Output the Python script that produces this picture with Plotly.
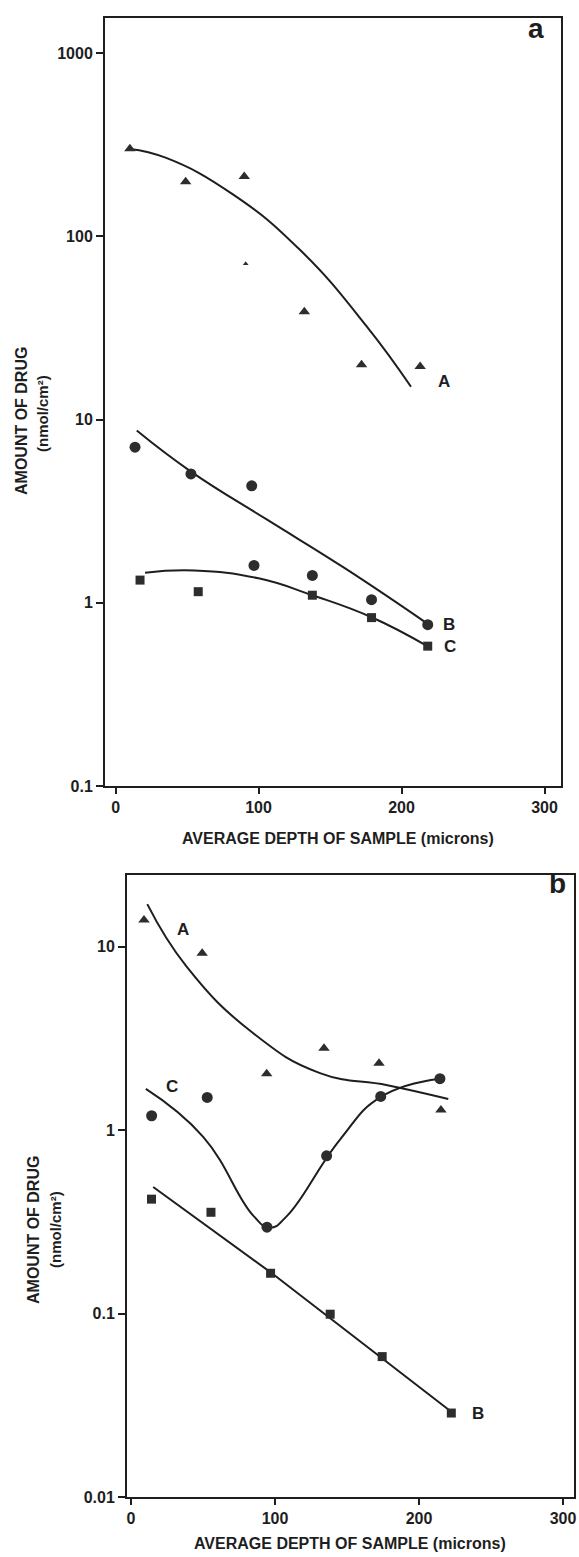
import math
import plotly.graph_objects as go

W, H = 579, 1557

# ---------------- Panel a data ----------------
a_tri_x = [10, 49, 90, 132, 172, 213]
a_tri_y = [301, 199, 212, 38.8, 19.9, 19.5]
a_faint_x = [91]
a_faint_y = [70.8]
a_circ_x = [13.6, 52.7, 95.2, 96.8, 137.6, 179, 218.3]
a_circ_y = [7.07, 5.05, 4.35, 1.60, 1.41, 1.04, 0.76]
a_sq_x = [17.1, 57.8, 137.6, 179, 218.3]
a_sq_y = [1.33, 1.15, 1.10, 0.83, 0.58]
a_curveA_x = [10, 35.4, 82.3, 128.9, 175.6, 206.6]
a_curveA_y = [300, 268, 169, 84.5, 32.3, 15.1]
a_curveB_x = [14.8, 52.7, 105.7, 160, 218]
a_curveB_y = [8.71, 5.20, 2.85, 1.55, 0.77]
a_curveC_x = [20.6, 55, 100, 137.6, 179, 218]
a_curveC_y = [1.46, 1.50, 1.36, 1.10, 0.834, 0.58]

# ---------------- Panel b data ----------------
b_tri_x = [9.0, 49.4, 94.2, 134, 172.2, 215.2]
b_tri_y = [14.0, 9.23, 2.03, 2.80, 2.32, 1.29]
b_circ_x = [14.3, 52.9, 94.4, 135.8, 173.4, 214.5]
b_circ_y = [1.20, 1.51, 0.296, 0.725, 1.53, 1.91]
b_sq_x = [14.2, 55.5, 96.9, 138.3, 174.4, 222.4]
b_sq_y = [0.421, 0.357, 0.166, 0.0993, 0.0583, 0.0287]
b_curveA_x = [11.3, 38.6, 84.9, 131.2, 178, 220.3]
b_curveA_y = [17.1, 7.8, 3.38, 2.05, 1.76, 1.48]
b_curveC_x = [10.3, 50.1, 85, 96.5, 108, 145, 173.5, 214.5]
b_curveC_y = [1.68, 0.92, 0.341, 0.294, 0.339, 0.887, 1.52, 1.91]
b_curveB_x = [15.4, 96.9, 220.6]
b_curveB_y = [0.49, 0.168, 0.0299]

# tick labels
x_ticks = [0, 100, 200, 300]
x_ticktext = ["0", "100", "200", "300"]
a_yticks = [0.1, 1, 10, 100, 1000]
a_yticktext = ["0.1", "1", "10", "100", "1000"]
b_yticks = [0.01, 0.1, 1, 10]
b_yticktext = ["0.01", "0.1", "1", "10"]

FONT = "Liberation Sans, Arial, Helvetica, sans-serif"
INK = "#1e1e1e"
MK = "#2d2d2d"

fig = go.Figure()


def markers(x, y, sym, size, xa, ya):
    fig.add_trace(go.Scatter(x=x, y=y, mode="markers", xaxis=xa, yaxis=ya,
                             marker=dict(symbol=sym, size=size, color=MK,
                                         line=dict(width=0)),
                             showlegend=False, hoverinfo="skip"))


def curve(x, y, xa, ya, shape="spline"):
    fig.add_trace(go.Scatter(x=x, y=y, mode="lines", xaxis=xa, yaxis=ya,
                             line=dict(color=INK, width=2, shape=shape,
                                       smoothing=1.3),
                             showlegend=False, hoverinfo="skip"))


# panel a (axes x, y)
curve(a_curveA_x, a_curveA_y, "x", "y")
curve(a_curveB_x, a_curveB_y, "x", "y")
curve(a_curveC_x, a_curveC_y, "x", "y")
markers(a_tri_x, a_tri_y, "triangle-up", 10, "x", "y")
markers(a_faint_x, a_faint_y, "triangle-up", 5, "x", "y")
markers(a_circ_x, a_circ_y, "circle", 11, "x", "y")
markers(a_sq_x, a_sq_y, "square", 9, "x", "y")

# panel b (axes x2, y2)
curve(b_curveA_x, b_curveA_y, "x2", "y2")
curve(b_curveC_x, b_curveC_y, "x2", "y2")
curve(b_curveB_x, b_curveB_y, "x2", "y2", shape="linear")
markers(b_tri_x, b_tri_y, "triangle-up", 10, "x2", "y2")
markers(b_circ_x, b_circ_y, "circle", 11, "x2", "y2")
markers(b_sq_x, b_sq_y, "square", 9, "x2", "y2")


def px_x(p):
    return p / W


def px_y(p):
    return 1 - p / H


tickfont = dict(family=FONT, size=16, color=INK, weight="bold")
axis_common = dict(showline=True, linecolor=INK, linewidth=2, mirror=True,
                   showgrid=False, zeroline=False, ticks="outside",
                   tickcolor=INK, tickwidth=2, automargin=False,
                   tickfont=tickfont)

fig.update_layout(
    width=W, height=H,
    margin=dict(l=0, r=0, t=0, b=0),
    paper_bgcolor="white", plot_bgcolor="white",
    xaxis=dict(domain=[px_x(105), px_x(561)], range=[-7.4, 311.5],
               tickvals=x_ticks, ticktext=x_ticktext, ticklen=6,
               anchor="y", **axis_common),
    yaxis=dict(domain=[px_y(786), px_y(18)], type="log", range=[-1, 3.192],
               tickvals=a_yticks, ticktext=a_yticktext, ticklen=7,
               anchor="x", **axis_common),
    xaxis2=dict(domain=[px_x(127), px_x(574)], range=[-2.8, 307.6],
                tickvals=x_ticks, ticktext=x_ticktext, ticklen=6,
                anchor="y2", **axis_common),
    yaxis2=dict(domain=[px_y(1497), px_y(875)], type="log", range=[-2, 1.392],
                tickvals=b_yticks, ticktext=b_yticktext, ticklen=7,
                anchor="x2", **axis_common),
)

lab = dict(family=FONT, size=17, color=INK, weight="bold")
panel_lab = dict(family=FONT, size=28, color=INK, weight="bold")

annots = [
    ("a", 294, 1358, "x", "y", panel_lab),
    ("A", 229.7, 16.1, "x", "y", lab),
    ("B", 233, 0.764, "x", "y", lab),
    ("C", 233.8, 0.577, "x", "y", lab),
    ("b", 296.2, 22.2, "x2", "y2", panel_lab),
    ("A", 36.3, 12.4, "x2", "y2", lab),
    ("C", 28.2, 1.73, "x2", "y2", lab),
    ("B", 240.6, 0.0287, "x2", "y2", lab),
]
for t, x, y, xr, yr, f in annots:
    fig.add_annotation(text=t, x=x, y=math.log10(y), xref=xr, yref=yr,
                       showarrow=False, font=f, xanchor="center",
                       yanchor="middle")

title_font = dict(family=FONT, size=16, color=INK, weight="bold")
ytitle_font = dict(family=FONT, size=16, color=INK, weight="bold")
ytitle2_font = dict(family=FONT, size=15, color=INK, weight="bold")
texts = [
    ("AVERAGE DEPTH OF SAMPLE (microns)", 338, 838, 0, title_font),
    ("AVERAGE DEPTH OF SAMPLE (microns)", 350, 1543, 0, title_font),
    ("AMOUNT OF DRUG", 21, 421, -90, ytitle_font),
    ("(nmol/cm²)", 43, 414, -90, ytitle2_font),
    ("AMOUNT OF DRUG", 33, 1230, -90, ytitle_font),
    ("(nmol/cm²)", 55, 1230, -90, ytitle2_font),
]
for t, x, y, ang, f in texts:
    fig.add_annotation(text=t, x=px_x(x), y=px_y(y), xref="paper", yref="paper",
                       showarrow=False, font=f, textangle=ang,
                       xanchor="center", yanchor="middle")

fig.write_html("out.html")
